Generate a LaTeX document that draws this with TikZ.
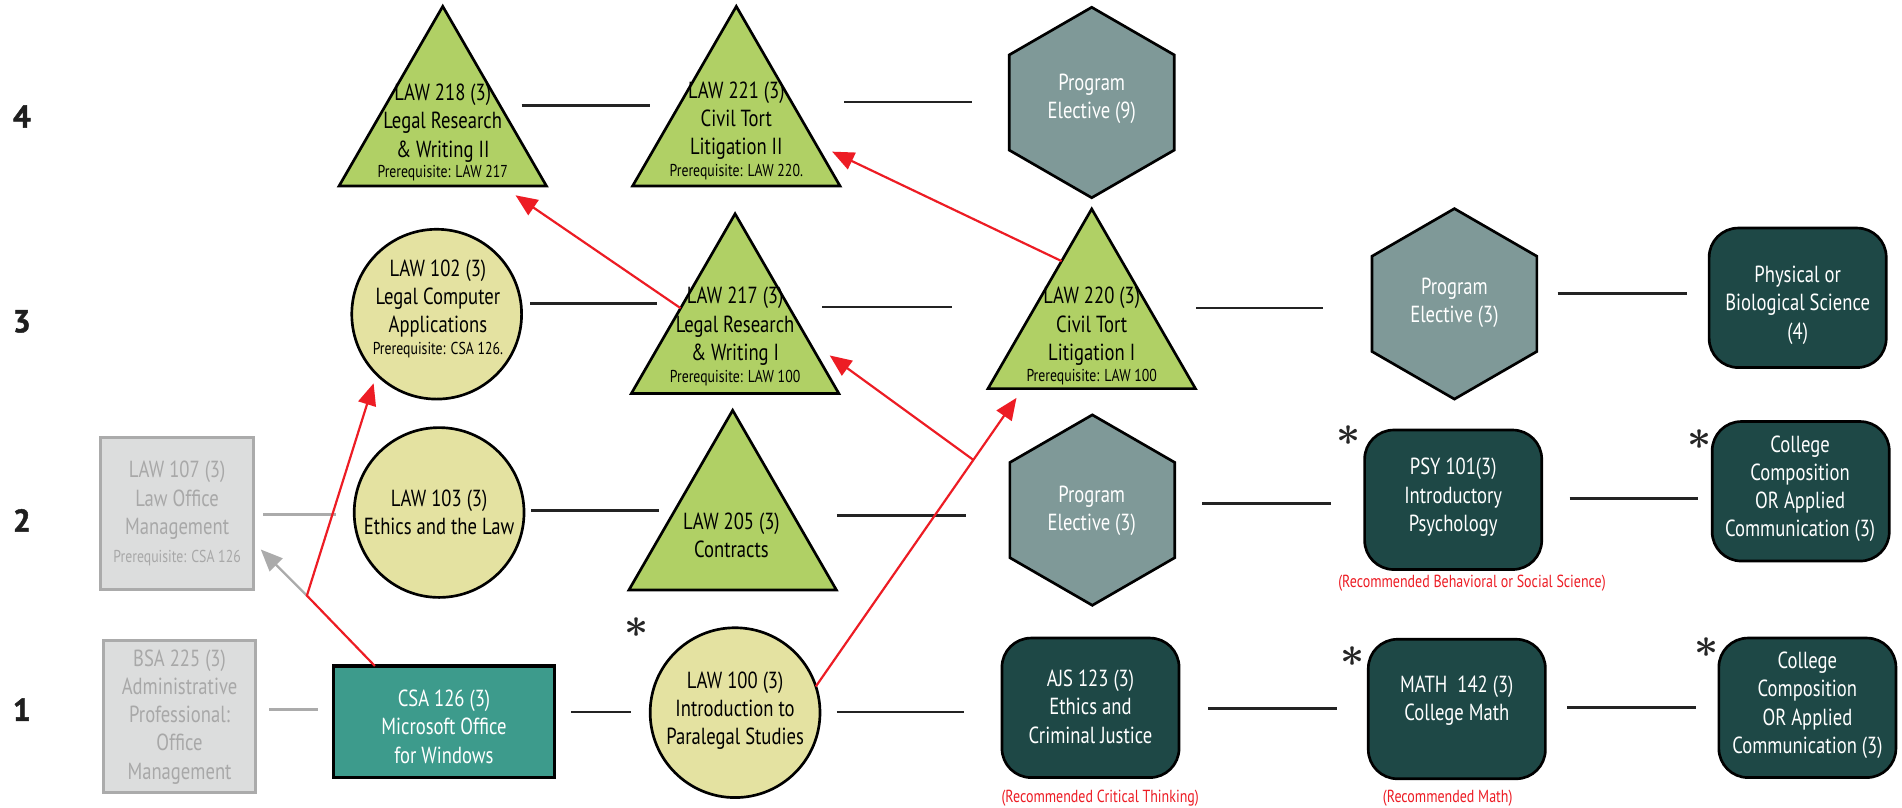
\documentclass[tikz,border=0pt]{standalone}
\usepackage{fontspec}
\setmainfont{PT Sans}[FakeStretch=0.8]
\newfontfamily\rowfont{PT Sans}[BoldFeatures={FakeBold=1.5}]
\usetikzlibrary{shapes.geometric,arrows.meta,calc}
\definecolor{trig}{RGB}{176,208,101}
\definecolor{circc}{RGB}{228,226,161}
\definecolor{hexc}{RGB}{127,153,152}
\definecolor{darkc}{RGB}{30,72,70}
\definecolor{csac}{RGB}{61,155,140}
\definecolor{grayf}{RGB}{220,221,221}
\definecolor{grayb}{RGB}{171,171,171}
\definecolor{grayt}{RGB}{168,168,168}
\definecolor{redc}{RGB}{237,28,36}
\definecolor{linec}{RGB}{35,35,35}
\newcommand{\fmain}{\fontsize{9.6}{11.65}\selectfont}
\newcommand{\fpre}{\fontsize{7.1}{8.5}\selectfont}
\newcommand{\fred}{\fontsize{7.2}{8.5}\selectfont}
\newcommand{\frow}{\rowfont\bfseries\fontsize{13}{14}\selectfont}
\begin{document}
\begin{tikzpicture}[x=0.5pt,y=-0.5pt,
  tri/.style={regular polygon, regular polygon sides=3, minimum size=98.75pt, inner sep=0pt, outer sep=0pt, draw=black, line width=1.1pt, fill=trig},
  hexa/.style={regular polygon, regular polygon sides=6, regular polygon rotate=30, minimum size=78.5pt, inner sep=0pt, outer sep=0pt, draw=black, line width=1.1pt, fill=hexc},
  circ/.style={circle, minimum size=70pt, inner sep=0pt, outer sep=0pt, draw=black, line width=1.1pt, fill=circc},
  dbox/.style={rectangle, rounded corners=12pt, minimum width=73pt, minimum height=57.5pt, inner sep=0pt, outer sep=0pt, draw=black, line width=1.1pt, fill=darkc},
  gbox/.style={rectangle, minimum width=63pt, minimum height=62.5pt, inner sep=0pt, outer sep=0pt, draw=grayb, line width=1.2pt, fill=grayf},
  csabox/.style={rectangle, minimum width=91pt, minimum height=46pt, inner sep=0pt, outer sep=0pt, draw=black, line width=1.4pt, fill=csac},
  mt/.style={align=center, inner sep=0pt, font=\fmain, text=black},
  wt/.style={mt, text=white},
  gt/.style={mt, text=grayt},
  pt/.style={inner sep=0pt, font=\fpre, text=black},
  rt/.style={inner sep=0pt, font=\fred, text=redc},
  rowlab/.style={inner sep=0pt, font=\frow, text=black!88},
  astx/.style={inner sep=0pt, font=\fontsize{19}{19}\selectfont\boldmath, text=black!85},
  conn/.style={draw=linec, line width=1.1pt},
  gconn/.style={draw=grayb, line width=1.1pt},
  rarr/.style={draw=redc, line width=0.9pt, line join=miter, -{Triangle[length=9pt,width=7.5pt]}},
  garr/.style={draw=grayb, line width=0.9pt, -{Triangle[length=9pt,width=7.5pt]}}
]
\path[use as bounding box, fill=white] (0,0) rectangle (1568,666);

% row labels
\node[rowlab] (r4) at (18,96) {4};
\node[rowlab] (r3) at (18,265) {3};
\node[rowlab] (r2) at (18,429) {2};
\node[rowlab] (r1) at (18,585) {1};

% shapes
\node[tri] (n218) at (365,104) {};
\node[tri] (n221) at (607,104) {};
\node[hexa] (e9) at (900,84.5) {};
\node[circ] (n102) at (360,259) {};
\node[tri] (n217) at (606,275) {};
\node[tri] (n220) at (900,271) {};
\node[hexa] (e3) at (1199,250.5) {};
\node[dbox] (sci) at (1482,245.5) {};
\node[gbox] (n107) at (146,423.5) {};
\node[circ] (n103) at (362,422.5) {};
\node[tri] (n205) at (604,437) {};
\node[hexa] (e2) at (900.5,420.5) {};
\node[dbox] (psy) at (1198,412) {};
\node[dbox] (comp2) at (1484.5,405) {};
\node[gbox] (bsa) at (148,590.5) {};
\node[csabox] (n126) at (366,595) {};
\node[circ] (n100) at (606,587.5) {};
\node[dbox] (ajs) at (899,583.5) {};
\node[dbox] (math) at (1201,584.5) {};
\node[dbox] (comp1) at (1490,583.5) {};

% texts
\node[mt] (t218) at (365,101.5) {LAW 218 (3)\\Legal Research\\\& Writing II};
\node[pt] (p218) at (365,143) {Prerequisite: LAW 217};
\node[mt] (t221) at (607,99.5) {LAW 221 (3)\\Civil Tort\\Litigation II};
\node[pt] (p221) at (607,141.5) {Prerequisite: LAW 220.};
\node[wt] (te9) at (900,81.5) {Program\\Elective (9)};
\node[mt] (t102) at (361,246) {LAW 102 (3)\\Legal Computer\\Applications};
\node[pt] (p102) at (361,289) {Prerequisite: CSA 126.};
\node[mt] (t217) at (606,269) {LAW 217 (3)\\Legal Research\\\& Writing I};
\node[pt] (p217) at (606,312) {Prerequisite: LAW 100};
\node[mt] (t220) at (900,269) {LAW 220 (3)\\Civil Tort\\Litigation I};
\node[pt] (p220) at (900,311) {Prerequisite: LAW 100};
\node[wt] (te3) at (1199,249.5) {Program\\Elective (3)};
\node[wt] (tsci) at (1482,251.5) {Physical or\\Biological Science\\(4)};
\node[gt] (t107) at (146,423.5) {LAW 107 (3)\\Law Office\\Management\\{\fpre Prerequisite: CSA 126}};
\node[mt] (t103) at (362,422.5) {LAW 103 (3)\\Ethics and the Law};
\node[mt] (t205) at (603,441.5) {LAW 205 (3)\\Contracts};
\node[wt] (te2) at (900,421) {Program\\Elective (3)};
\node[wt] (tpsy) at (1198,410) {PSY 101(3)\\Introductory\\Psychology};
\node[wt] (tcomp2) at (1484,403) {College\\Composition\\OR Applied\\Communication (3)};
\node[gt] (tbsa) at (148,591) {BSA 225 (3)\\Administrative\\Professional:\\Office\\Management};
\node[wt] (t126) at (366,599) {CSA 126 (3)\\Microsoft Office\\for Windows};
\node[mt] (t100) at (606,586) {LAW 100 (3)\\Introduction to\\Paralegal Studies};
\node[wt] (tajs) at (899,582.5) {AJS 123 (3)\\Ethics and\\Criminal Justice};
\node[wt] (tmath) at (1201,577.5) {MATH\ \ 142 (3)\\College Math};
\node[wt] (tcomp1) at (1490,581.5) {College\\Composition\\OR Applied\\Communication (3)};

% red notes
\node[rt] (rpsy) at (1213.5,481) {(Recommended Behavioral or Social Science)};
\node[rt] (rajs) at (907,658) {(Recommended Critical Thinking)};
\node[rt] (rmath) at (1193.5,658) {(Recommended Math)};

% asterisks
\node[astx] (s100) at (525,517) {$\ast$};
\node[astx] (spsy) at (1112,359) {$\ast$};
\node[astx] (scomp2) at (1401,362) {$\ast$};
\node[astx] (smath) at (1115,541) {$\ast$};
\node[astx] (scomp1) at (1407,534) {$\ast$};

% sequence lines
\coordinate (a1) at (430,87);   \coordinate (b1) at (536,87);
\coordinate (a2) at (696,84);   \coordinate (b2) at (801,84);
\coordinate (a3) at (437,250);  \coordinate (b3) at (542,250);
\coordinate (a4) at (678,253);  \coordinate (b4) at (785,253);
\coordinate (a5) at (986,254);  \coordinate (b5) at (1091,254);
\coordinate (a6) at (1284,242); \coordinate (b6) at (1391,242);
\coordinate (a7) at (217,424);  \coordinate (b7) at (277,424);
\coordinate (a8) at (438,421);  \coordinate (b8) at (543,421);
\coordinate (a9) at (690,425);  \coordinate (b9) at (796,425);
\coordinate (a10) at (991,415); \coordinate (b10) at (1097,415);
\coordinate (a11) at (1294,411);\coordinate (b11) at (1400,411);
\coordinate (a12) at (222,585); \coordinate (b12) at (262,585);
\coordinate (a13) at (471,587); \coordinate (b13) at (520,587);
\coordinate (a14) at (690,587); \coordinate (b14) at (795,587);
\coordinate (a15) at (996,584); \coordinate (b15) at (1102,584);
\coordinate (a16) at (1292,583);\coordinate (b16) at (1398,583);
\foreach \i in {1,2,3,4,5,6,8,9,10,11,13,14,15,16} {\draw[conn] (a\i) -- (b\i);}
\draw[gconn] (a7) -- (b7);
\draw[gconn] (a12) -- (b12);

% prerequisite arrows
\coordinate (j1) at (253,491);
\coordinate (tip102) at (308,316);
\coordinate (tip107) at (215,453);
\coordinate (tip220) at (838,328);
\coordinate (tip217) at (684,293);
\coordinate (tip221) at (686,125);
\coordinate (tip218) at (425,161);
\coordinate (j2) at ($(n100.18.3)!0.785!(tip220)$);
\draw[garr] (j1) -- (tip107);
\draw[rarr] ([xshift=-28.5pt]n126.north) -- (j1) -- (tip102);
\draw[rarr] (n100.18.3) -- (tip220);
\draw[rarr] (j2) -- (tip217);
\draw[rarr] (n220.114.6) -- (tip221);
\draw[rarr] (n217.155.4) -- (tip218);
\end{tikzpicture}
\end{document}
